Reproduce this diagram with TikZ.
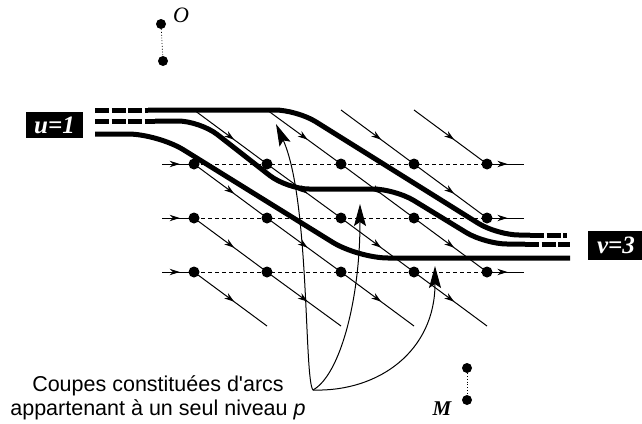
\documentclass[tikz,border=0pt]{standalone}
\usepackage{fontspec}
\setmainfont{Liberation Serif}
\newfontfamily\capfont{Liberation Sans}
\usetikzlibrary{arrows.meta,decorations.markings}
\pgfdeclarelayer{bg}
\pgfsetlayers{bg,main}
\begin{document}
\begin{tikzpicture}[x=1pt,y=-1pt,
  dot/.style={circle,fill=black,inner sep=0pt,minimum size=11pt},
  sdot/.style={circle,fill=black,inner sep=0pt,minimum size=10pt},
  flow/.style={line width=1pt,postaction={decorate},
    decoration={markings,mark=at position 0.55 with {\arrow{Stealth[length=10pt,width=6.5pt]}}}},
  rowline/.style={line width=0.8pt,dash pattern=on 4pt off 3pt},
  cut/.style={line width=5pt,rounded corners=22pt},
  cutdash/.style={line width=5pt,dash pattern=on 14pt off 2.5pt},
  bigarrow/.style={line width=1pt,-{Stealth[length=22pt,width=12pt,inset=4pt]}},
  labelbox/.style={fill=black,text=white,font=\bfseries\itshape\fontsize{25}{25}\selectfont,inner sep=0pt},
  linkdots/.style={line width=0.8pt,dotted}
]
\useasboundingbox (0,0) rectangle (642,423);

% grid of vertices
\foreach \r/\y in {1/164,2/218,3/272}
  \foreach \c/\x in {1/194,2/267,3/341,4/414,5/487}
    \node[dot] (g\r\c) at (\x,\y) {};

% free ends
\coordinate (t1) at (194,110);
\coordinate (t2) at (267,110);
\coordinate (t3) at (341,110);
\coordinate (t4) at (414,110);
\coordinate (b1) at (267,326);
\coordinate (b2) at (341,326);
\coordinate (b3) at (414,326);
\coordinate (b4) at (487,326);
\coordinate (l1) at (162,164);
\coordinate (l2) at (162,218);
\coordinate (l3) at (162,272);
\coordinate (r1) at (524,164);
\coordinate (r2) at (524,218);
\coordinate (r3) at (524,272);

\begin{pgfonlayer}{bg}
  % dashed rows
  \foreach \r in {1,2,3}
    \draw[rowline] (g\r1.center) -- (g\r5.center);
  % horizontal in/out arcs
  \foreach \r in {1,2,3}{
    \draw[flow] (l\r) -- (g\r1.center);
    \draw[flow] (g\r5.center) -- (r\r);
  }
  % diagonal arcs
  \draw[flow] (t1) -- (g12.center);
  \draw[flow] (g12.center) -- (g23.center);
  \draw[flow] (g23.center) -- (g34.center);
  \draw[flow] (g34.center) -- (b4);
  \draw[flow] (t2) -- (g13.center);
  \draw[flow] (g13.center) -- (g24.center);
  \draw[flow] (g24.center) -- (g35.center);
  \draw[flow] (t3) -- (g14.center);
  \draw[flow] (g14.center) -- (g25.center);
  \draw[flow] (t4) -- (g15.center);
  \draw[flow] (g11.center) -- (g22.center);
  \draw[flow] (g22.center) -- (g33.center);
  \draw[flow] (g33.center) -- (b3);
  \draw[flow] (g21.center) -- (g32.center);
  \draw[flow] (g32.center) -- (b2);
  \draw[flow] (g31.center) -- (b1);

  % thick cut curves
  \draw[cutdash] (95,110) -- (148,110);
  \draw[cut] (148,110) -- (297,110) -- (497,235) -- (530,235);
  \draw[cutdash] (530,235) -- (567,235);

  \draw[cutdash] (95,121) -- (155,121);
  \draw[cut] (155,121) -- (200,121) -- (287,189) -- (395,189) -- (485,244) -- (525,244);
  \draw[cutdash] (525,244) -- (570,244);

  \draw[cut,rounded corners=30pt] (95,134) -- (158,134) -- (358,258) -- (570,258);
\end{pgfonlayer}

% labels u and v
\node[labelbox,minimum width=57pt,minimum height=26pt] (u) at (54.5,125) {u=1};
\node[labelbox,minimum width=56pt,minimum height=29pt] (v) at (616,245.5) {v=3};

% O and M
\node[sdot] (o1) at (161,24) {};
\node[sdot] (o2) at (163,61) {};
\draw[linkdots] (o1) -- (o2);
\node[font=\itshape\fontsize{22}{22}\selectfont] (O) at (181,15) {O};
\node[sdot] (m1) at (467,368) {};
\node[sdot] (m2) at (467,400) {};
\draw[linkdots] (m1) -- (m2);
\node[font=\bfseries\itshape\fontsize{21}{21}\selectfont] (M) at (442,409) {M};

% caption and arrows
\node[align=center,font=\capfont\fontsize{21.5}{24}\selectfont] (cap) at (158,398)
  {Coupes constituées d'arcs\\appartenant à un seul niveau \textit{p}};
\coordinate (src) at (313,390);
\coordinate (ta) at (276,124);
\coordinate (tb) at (360,204);
\coordinate (tc) at (435,266);
\draw[bigarrow] (src) .. controls (304,380) and (310,200) .. (ta);
\draw[bigarrow] (src) .. controls (340,375) and (360,300) .. (tb);
\draw[bigarrow] (src) .. controls (380,392) and (435,350) .. (tc);
\end{tikzpicture}
\end{document}
